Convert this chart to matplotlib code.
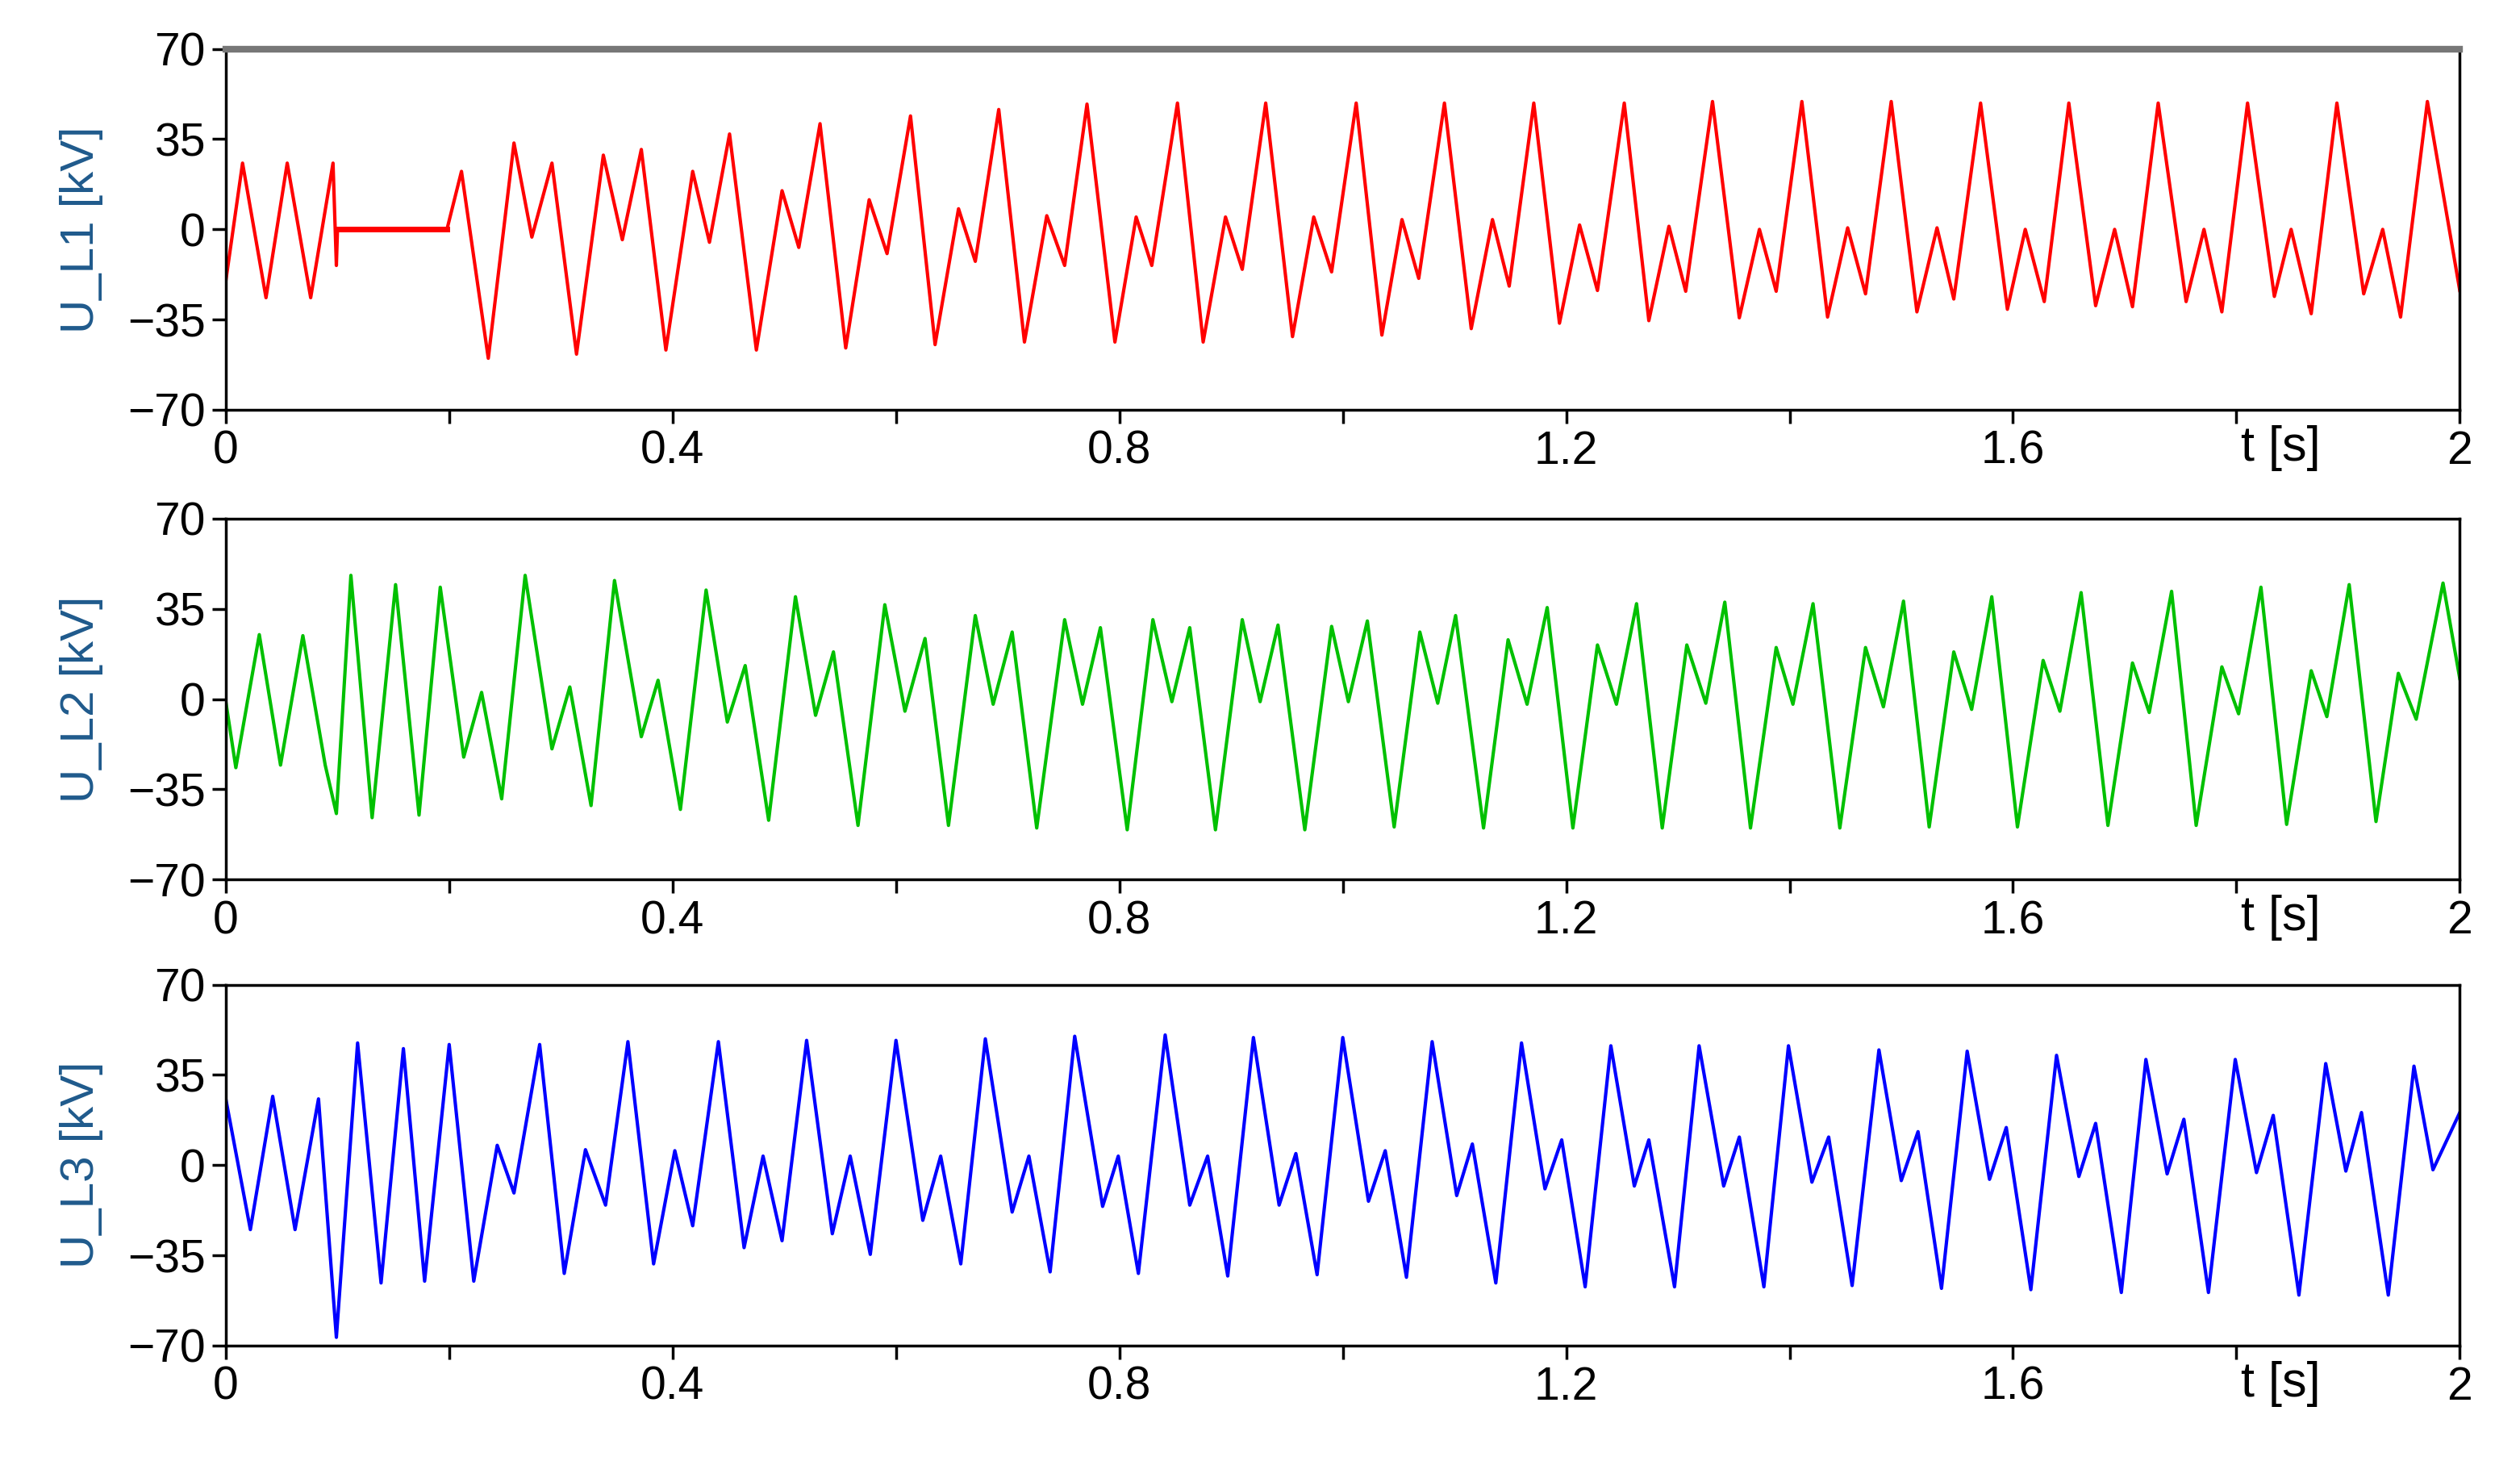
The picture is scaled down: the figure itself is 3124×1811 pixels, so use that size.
import matplotlib
matplotlib.use('Agg')
import matplotlib.pyplot as plt

# extrema of each phase voltage (t in s, u in kV)
t_l1 = [0.0, 0.015, 0.036, 0.055, 0.076, 0.096, 0.099, 0.100, 0.198,
        0.211, 0.235, 0.258, 0.274, 0.292, 0.314, 0.338, 0.355, 0.372, 0.394,
        0.418, 0.433, 0.451, 0.475, 0.498, 0.513, 0.532, 0.555, 0.576, 0.592,
        0.613, 0.635, 0.656, 0.671, 0.692, 0.715, 0.735, 0.751, 0.771, 0.796,
        0.815, 0.829, 0.852, 0.875, 0.895, 0.910, 0.931, 0.955, 0.974, 0.990,
        1.012, 1.035, 1.053, 1.068, 1.091, 1.115, 1.134, 1.149, 1.171, 1.194,
        1.212, 1.228, 1.252, 1.274, 1.292, 1.307, 1.331, 1.355, 1.373, 1.388,
        1.411, 1.434, 1.452, 1.468, 1.491, 1.514, 1.532, 1.547, 1.571, 1.595,
        1.611, 1.628, 1.650, 1.674, 1.691, 1.707, 1.730, 1.755, 1.771, 1.787,
        1.810, 1.834, 1.849, 1.867, 1.890, 1.914, 1.931, 1.947, 1.971, 2.0]
u_l1 = [-20, 25.7, -26.5, 25.7, -26.5, 25.7, -14, 0, 0,
        22.5, -50, 33.5, -3, 25.7, -48.4, 28.8, -4, 31, -46.8,
        22.5, -5, 37, -46.8, 15, -7, 41, -46, 11.5, -9.4,
        44, -44.7, 8, -12.4, 46.5, -43.7, 5.3, -14, 48.6, -43.7,
        4.8, -14, 49, -43.7, 4.8, -15.5, 49, -41.6, 4.8, -16.5,
        49, -41, 3.8, -19, 49, -38.5, 3.8, -22, 49, -36.4,
        1.7, -23.7, 49, -35.4, 1.2, -24, 49.6, -34.3, 0, -24,
        49.6, -34, 0.6, -25, 49.6, -32, 0.6, -27, 49, -31,
        0, -28, 49, -29.6, 0, -30, 49, -28, 0, -32,
        49, -26, 0, -32.7, 49, -25, 0, -34, 49.6, -23.7]

t_l2 = [0.0, 0.009, 0.030, 0.049, 0.069, 0.089, 0.099, 0.112, 0.131, 0.152,
        0.173, 0.192, 0.213, 0.229, 0.247, 0.268, 0.292, 0.308, 0.327, 0.348,
        0.372, 0.387, 0.407, 0.430, 0.449, 0.465, 0.486, 0.510, 0.528, 0.544,
        0.566, 0.590, 0.608, 0.626, 0.647, 0.671, 0.687, 0.704, 0.726, 0.751,
        0.767, 0.783, 0.807, 0.830, 0.847, 0.863, 0.886, 0.910, 0.926, 0.942,
        0.966, 0.990, 1.005, 1.022, 1.046, 1.069, 1.085, 1.101, 1.126, 1.148,
        1.165, 1.183, 1.206, 1.228, 1.245, 1.263, 1.286, 1.308, 1.325, 1.342,
        1.365, 1.388, 1.403, 1.421, 1.445, 1.468, 1.484, 1.502, 1.525, 1.547,
        1.563, 1.581, 1.604, 1.627, 1.642, 1.661, 1.685, 1.707, 1.722, 1.742,
        1.764, 1.787, 1.802, 1.822, 1.845, 1.867, 1.881, 1.901, 1.925, 1.945,
        1.961, 1.985, 2.0]
u_l2 = [-1, -26.6, 25, -25.6, 24.6, -25.6, -44.4, 48, -46, 44.4,
        -45, 43.4, -22.5, 2.6, -38.7, 48, -19.3, 4.7, -41.3, 46,
        -14.6, 7.3, -42.8, 42.3, -8.9, 13, -47, 39.7, -6.3, 18.3,
        -49, 36.6, -4.7, 23.5, -49, 32.4, -2, 26, -50, 30.8,
        -2, 27.7, -50.7, 30.8, -1, 27.7, -50.7, 30.8, -1, 28.7,
        -50.7, 28.2, -1, 30.3, -49.6, 26, -1.6, 32.4, -50, 23,
        -2, 35.5, -50, 21, -2, 37, -50, 21, -1.6, 37.6,
        -50, 20, -2, 37, -50, 20, -3, 38, -49.6, 18.3,
        -4, 39.7, -49.6, 15, -4.7, 41.3, -49, 14, -5.2, 41.8,
        -49, 12.5, -5.7, 43.4, -48.6, 11, -6.8, 44.4, -47.5, 10,
        -7.8, 45, 8]

t_l3 = [0.0, 0.022, 0.042, 0.062, 0.083, 0.099, 0.118, 0.139, 0.159, 0.178,
        0.200, 0.222, 0.243, 0.258, 0.281, 0.303, 0.322, 0.340, 0.360, 0.383,
        0.402, 0.418, 0.441, 0.464, 0.481, 0.498, 0.520, 0.543, 0.559, 0.577,
        0.600, 0.624, 0.640, 0.658, 0.680, 0.704, 0.719, 0.738, 0.760, 0.785,
        0.799, 0.817, 0.841, 0.863, 0.879, 0.897, 0.920, 0.943, 0.958, 0.977,
        1.000, 1.023, 1.038, 1.057, 1.080, 1.102, 1.116, 1.137, 1.160, 1.181,
        1.196, 1.217, 1.240, 1.261, 1.274, 1.297, 1.319, 1.341, 1.355, 1.377,
        1.399, 1.420, 1.435, 1.456, 1.480, 1.500, 1.515, 1.536, 1.559, 1.579,
        1.594, 1.616, 1.639, 1.659, 1.674, 1.697, 1.719, 1.738, 1.753, 1.775,
        1.799, 1.818, 1.833, 1.856, 1.880, 1.898, 1.912, 1.936, 1.959, 1.976,
        2.0]
u_l3 = [25.7, -25, 26.7, -25, 25.7, -66.8, 47.4, -45.7, 45.2, -45,
        46.8, -45, 7.7, -10.8, 46.8, -42, 6, -15.5, 47.9, -38.3,
        5.6, -23.5, 47.9, -32, 3.5, -29.3, 48.4, -26.6, 3.5, -34.6,
        48.4, -21.4, 3.5, -38.3, 49, -18.2, 3.5, -41.4, 50, -16,
        3.5, -42, 50.5, -15.5, 3.5, -43, 49.5, -15.5, 4.5, -42.5,
        49.5, -14, 5.6, -43.5, 47.9, -11.8, 8.2, -45.7, 47.4, -9.2,
        9.8, -47.2, 46.3, -8.1, 9.8, -47.2, 46.3, -8.1, 10.9, -47.2,
        46.3, -6.6, 10.9, -46.7, 44.7, -6, 13, -47.8, 44.2, -5.5,
        14.6, -48.3, 42.6, -4.4, 16.2, -49.4, 41, -3.4, 17.8, -49.4,
        41, -2.9, 19.3, -50.4, 39.4, -2.3, 20.4, -50.4, 38.4, -1.8,
        20.4]

panels = [(t_l1, u_l1, '#ff0000', 'U_L1 [kV]'),
          (t_l2, u_l2, '#00c000', 'U_L2 [kV]'),
          (t_l3, u_l3, '#0000ff', 'U_L3 [kV]')]
x_labels = [0, 0.4, 0.8, 1.2, 1.6, 2]
y_ticks = [-70, -35, 0, 35, 70]

plt.rcParams['font.family'] = ['Liberation Sans', 'DejaVu Sans']
fig = plt.figure(figsize=(31.24, 18.11), dpi=100)
bottoms = [0.7195, 0.398, 0.079]

for i, (t, u, col, lab) in enumerate(panels):
    ax = fig.add_axes([0.0896, bottoms[i], 0.8865, 0.247])
    ax.plot(t, u, color=col, lw=3)
    if i == 0:
        ax.plot([0.100, 0.198], [0, 0], color=col, lw=5)
    ax.set_xlim(0, 2)
    ax.set_ylim(-70, 70)
    ax.set_yticks(y_ticks)
    ax.set_xticks(x_labels)
    ax.set_xticklabels(['0', '0.4', '0.8', '1.2', '1.6', '2'])
    ax.set_xticks([0.2, 0.6, 1.0, 1.4, 1.8], minor=True)
    ax.tick_params(axis='both', which='both', direction='out', length=12,
                   width=2.5, labelsize=41, pad=6)
    for s in ax.spines.values():
        s.set_linewidth(2.5)
    if i == 0:
        ax.spines['top'].set_color('#777777')
        ax.spines['top'].set_linewidth(6)
    ax.set_ylabel(lab, fontsize=42, color='#1f5a8c', labelpad=22)
    ax.text(1.84, -76, 't [s]', fontsize=44, ha='center', va='top',
            clip_on=False)

fig.savefig('out.png', dpi=100, facecolor='white')
